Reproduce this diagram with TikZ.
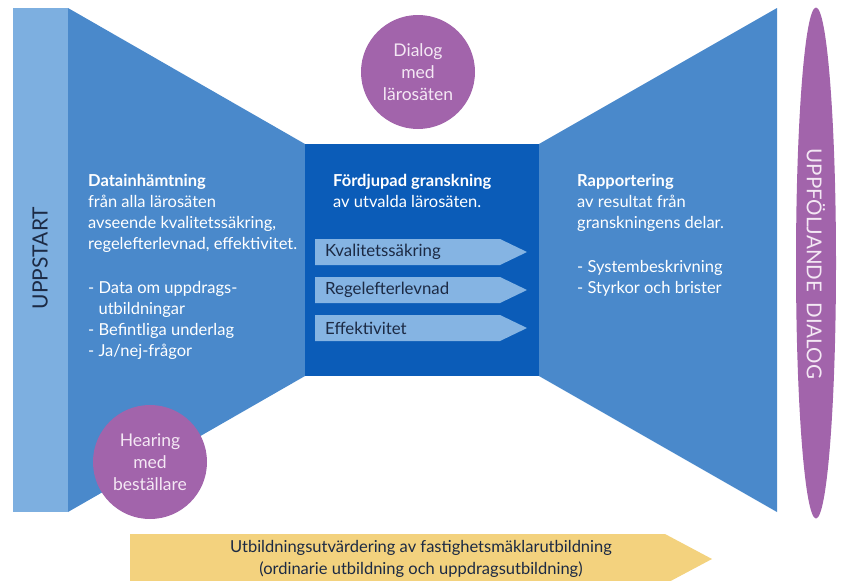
\documentclass[tikz,border=0pt]{standalone}
\usepackage{fontspec}
\setmainfont{Lato}
\usetikzlibrary{shapes.geometric}

\definecolor{stripblue}{HTML}{7DAFE0}
\definecolor{funnelblue}{HTML}{4A89CB}
\definecolor{coreblue}{HTML}{0B5CB8}
\definecolor{tagblue}{HTML}{85B4E3}
\definecolor{dialogviolet}{HTML}{A264AB}
\definecolor{sand}{HTML}{F3D27E}
\definecolor{navytext}{HTML}{1C2A44}
\definecolor{paletext}{HTML}{F4E8F4}

\tikzset{
  bodytext/.style={anchor=north west, inner sep=0pt, align=left, text=white,
    font=\fontsize{16.5}{21}\selectfont},
  tagarrow/.style={fill=tagblue},
  taglabel/.style={anchor=west, inner sep=0pt, text=navytext,
    font=\fontsize{16.8}{18}\selectfont},
  bubble/.style={circle, fill=dialogviolet, minimum size=114pt, inner sep=0pt,
    align=center, text=paletext, font=\fontsize{17.5}{22}\selectfont},
}

\begin{document}
\begin{tikzpicture}[x=1pt,y=-1pt]
\useasboundingbox (0,0) rectangle (844,581);

% funnel: start strip, collection, deep review, reporting
\fill[stripblue] (13,8) rectangle (68,512);
\fill[funnelblue] (68,8) -- (305,144) -- (305,376) -- (68,512) -- cycle;
\fill[funnelblue] (539,144) -- (777,8) -- (777,512) -- (539,376) -- cycle;
\fill[coreblue] (305,144) rectangle (539,376);

% start label
\node[rotate=90, text=navytext, font=\fontsize{21}{24}\selectfont] (start) at (40,258) {UPPSTART};

% collection text
\node[bodytext] (collect) at (88,174) {\textbf{Datainhämtning}\\
från alla lärosäten\\
avseende kvalitetssäkring,\\
regelefterlevnad, effektivitet.\\[23pt]
- Data om uppdrags-\\
\phantom{- }utbildningar\\
- Befintliga underlag\\
- Ja/nej-frågor};

% deep review text
\node[bodytext] (review) at (333,174) {\textbf{Fördjupad granskning}\\
av utvalda lärosäten.};

% review aspects
\fill[tagarrow] (315,239) -- (500,239) -- (527,252) -- (500,265) -- (315,265) -- cycle;
\node[taglabel] (quality) at (325,252) {Kvalitetssäkring};
\fill[tagarrow] (315,277) -- (500,277) -- (527,290) -- (500,303) -- (315,303) -- cycle;
\node[taglabel] (rules) at (325,290) {Regelefterlevnad};
\fill[tagarrow] (315,315) -- (500,315) -- (527,328) -- (500,341) -- (315,341) -- cycle;
\node[taglabel] (efficiency) at (325,328) {Effektivitet};

% reporting text
\node[bodytext] (report) at (577,174) {\textbf{Rapportering}\\
av resultat från\\
granskningens delar.\\[23pt]
- Systembeskrivning\\
- Styrkor och brister};

% dialogue bubbles
\node[bubble] (dialog) at (418,72) {Dialog\\med\\lärosäten};
\node[bubble] (hearing) at (150,462) {Hearing\\med\\beställare};

% follow-up ellipse
\node[ellipse, fill=dialogviolet, minimum width=40pt, minimum height=511pt, inner sep=0pt] (followup) at (816,263) {};
\node[rotate=-90, text=paletext, font=\fontsize{20.5}{24}\selectfont] (followuptext) at (816,264) {UPPFÖLJANDE\ \ DIALOG};

% evaluation banner
\fill[sand] (130,534) -- (665,534) -- (712,559) -- (665,584) -- (130,584) -- cycle;
\node[align=center, text=navytext, font=\fontsize{16.5}{22}\selectfont] (banner) at (421,559)
  {Utbildningsutvärdering av fastighetsmäklarutbildning\\(ordinarie utbildning och uppdragsutbildning)};
\end{tikzpicture}
\end{document}
